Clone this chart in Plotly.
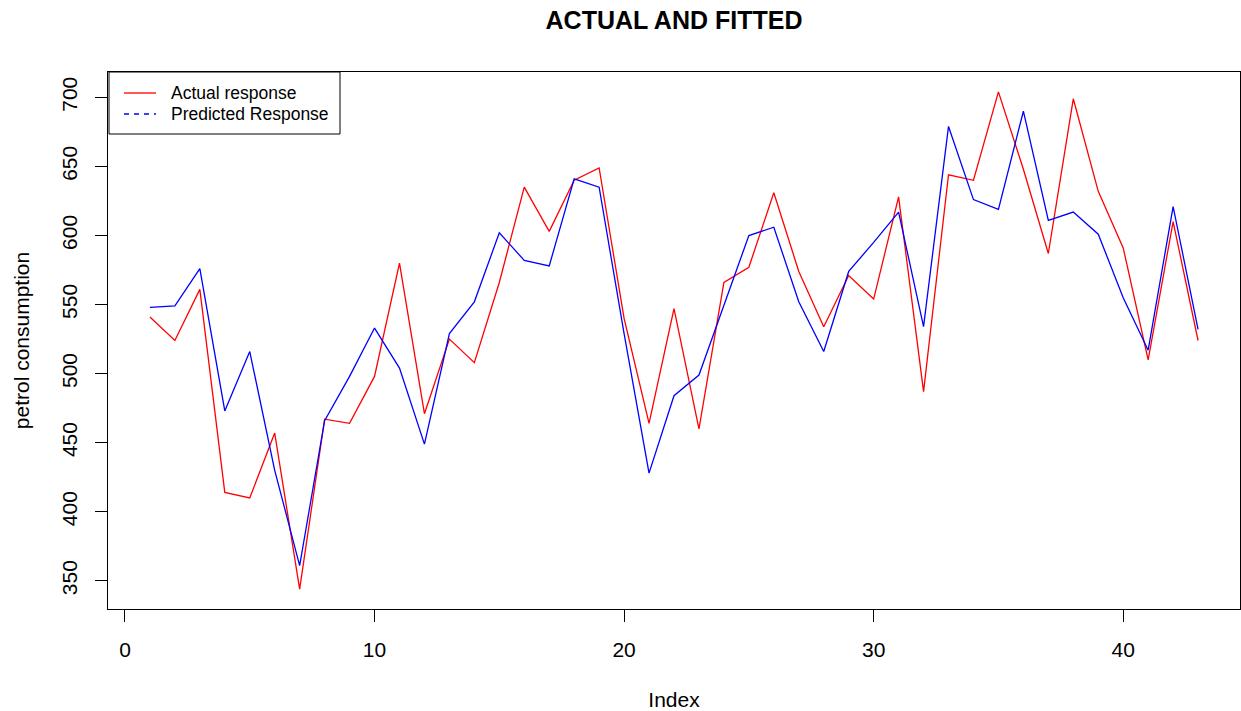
import plotly.graph_objects as go

index = list(range(1, 44))
actual = [541, 524, 561, 414, 410, 457, 344, 467, 464, 498, 580, 471, 525, 508, 566,
          635, 603, 640, 649, 540, 464, 547, 460, 566, 577, 631, 574, 534, 571, 554,
          628, 487, 644, 640, 704, 648, 587, 699, 632, 591, 510, 610, 524]
predicted = [548, 549, 576, 473, 516, 430, 361, 466, 498, 533, 504, 449, 529, 552, 602,
             582, 578, 641, 635, 529, 428, 484, 499, 550, 600, 606, 552, 516, 574, 595,
             617, 534, 679, 626, 619, 690, 611, 617, 601, 555, 517, 621, 532]

x_ticks = [0, 10, 20, 30, 40]
y_ticks = [350, 400, 450, 500, 550, 600, 650, 700]
legend_labels = ["Actual response", "Predicted Response"]

FONT = "Liberation Sans, Arial, Helvetica, sans-serif"
FS = 21

# plot area in pixels
L, R, T, B = 108, 1240, 72, 609
W, H = 1241, 711


def px(x):
    return (x - L) / (R - L)


def py(y):
    return (B - y) / (B - T)


fig = go.Figure()
fig.add_trace(go.Scatter(x=index, y=actual, mode="lines", line=dict(color="red", width=1.3),
                         name=legend_labels[0], showlegend=False))
fig.add_trace(go.Scatter(x=index, y=predicted, mode="lines", line=dict(color="blue", width=1.3),
                         name=legend_labels[1], showlegend=False))

n = len(index)
xpad = (n - 1) * 0.04
ymin = min(min(actual), min(predicted))
ymax = max(max(actual), max(predicted))
ypad = (ymax - ymin) * 0.04

# legend drawn like R's legend(): box, line samples, labels
shapes = [
    dict(type="rect", xref="paper", yref="paper", x0=px(109), x1=px(340), y0=py(72), y1=py(134),
         line=dict(color="black", width=1), fillcolor="white", layer="above"),
    dict(type="line", xref="paper", yref="paper", x0=px(124), x1=px(156), y0=py(93), y1=py(93),
         line=dict(color="red", width=1.3)),
    dict(type="line", xref="paper", yref="paper", x0=px(124), x1=px(156), y0=py(114), y1=py(114),
         line=dict(color="blue", width=1.3, dash="5px,5px")),
]
annotations = [
    dict(text=legend_labels[0], xref="paper", yref="paper", x=px(169), y=py(93),
         xanchor="left", yanchor="middle", showarrow=False, font=dict(size=17.5)),
    dict(text=legend_labels[1], xref="paper", yref="paper", x=px(169), y=py(114),
         xanchor="left", yanchor="middle", showarrow=False, font=dict(size=17.5)),
]

fig.update_layout(
    width=W, height=H,
    margin=dict(l=L, r=W - R, t=T, b=H - B),
    paper_bgcolor="white", plot_bgcolor="white",
    font=dict(family=FONT, size=FS, color="black"),
    title=dict(text="<b>ACTUAL AND FITTED</b>", x=(L + R) / 2 / W, xanchor="center",
               y=1 - 20 / H, yanchor="middle", font=dict(size=25, family=FONT)),
    showlegend=False,
    shapes=shapes,
    annotations=annotations,
    xaxis=dict(range=[1 - xpad, n + xpad], tickvals=x_ticks, ticks="outside", ticklen=12,
               tickcolor="black", showline=True, linecolor="black", linewidth=1, mirror=True,
               showgrid=False, zeroline=False, tickfont=dict(size=FS), ticklabelstandoff=10,
               title=dict(text="Index", font=dict(size=FS), standoff=32)),
    yaxis=dict(range=[ymin - ypad, ymax + ypad], tickvals=y_ticks, ticks="outside", ticklen=12,
               tickcolor="black", showline=True, linecolor="black", linewidth=1, mirror=True,
               showgrid=False, zeroline=False, tickangle=-90, tickfont=dict(size=FS),
               ticklabelstandoff=10,
               title=dict(text="petrol consumption", font=dict(size=FS), standoff=22)),
)

fig.write_html("out.html")
